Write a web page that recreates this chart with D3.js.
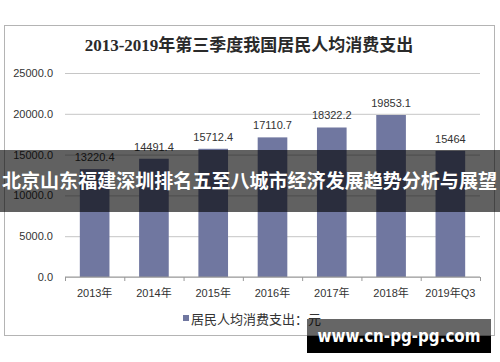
<!DOCTYPE html>
<html>
<head>
<meta charset="utf-8">
<script src="https://cdn.jsdelivr.net/npm/d3@7"></script>
<style>
  body { margin: 0; background: #fff; }
  svg { display: block; }
  text { font-family: "Liberation Sans", Arial, "Noto Sans CJK SC", sans-serif; }
</style>
</head>
<body>
<div id="chart"></div>
<script>
const width = 500
const height = 362
const margin = { left: 65, right: 20, top: 73, bottom: 85 }

const title = '2013-2019年第三季度我国居民人均消费支出'
const years = ['2013年', '2014年', '2015年', '2016年', '2017年', '2018年', '2019年Q3']
const values = [13220.4, 14491.4, 15712.4, 17110.7, 18322.2, 19853.1, 15464]
const yTicks = [0, 5000, 10000, 15000, 20000, 25000]
const legendLabel = '居民人均消费支出：元'
const banner = '北京山东福建深圳排名五至八城市经济发展趋势分析与展望'
const watermark = 'www.cn-pg-pg.com'

const barColor = '#7077a0'
const formatTick = d3.format('.1f')

const svg = d3.select('#chart')
  .append('svg')
    .attr('width', width)
    .attr('height', height)

// outer frame
svg.append('rect')
  .attr('x', 4.5)
  .attr('y', 25.5)
  .attr('width', 490)
  .attr('height', 310)
  .attr('fill', '#fff')
  .attr('stroke', '#b4b4b4')

svg.append('text')
  .attr('x', 249)
  .attr('y', 51)
  .attr('text-anchor', 'middle')
  .style('font-family', '"Liberation Serif", "Noto Sans CJK SC", serif')
  .style('font-size', '17px')
  .style('font-weight', 'bold')
  .attr('fill', '#2a2a2a')
  .text(title)

let x_scale = d3.scaleBand()
  .domain(years)
  .range([margin.left, width - margin.right])
  .paddingInner(0.5)
  .paddingOuter(0.25)
let x_axis_scale = d3.scaleBand()
  .domain(years)
  .range([margin.left, width - margin.right])
let y_scale = d3.scaleLinear()
  .domain([0, 25000])
  .range([height - margin.bottom, margin.top])

// grid + y labels
svg.append('g')
  .attr('transform', `translate(${margin.left},0)`)
  .call(d3.axisLeft(y_scale).tickValues(yTicks).tickFormat(formatTick)
    .tickSize(-(width - margin.left - margin.right)).tickPadding(12))
  .call(g => g.select('.domain').remove())
  .call(g => g.selectAll('.tick line').attr('stroke', '#c6c6c6'))
  .call(g => g.selectAll('.tick text')
    .attr('fill', '#333')
    .style('font-size', '11px'))

// bars
svg.append('g')
  .selectAll('rect')
  .data(values)
  .enter().append('rect')
    .attr('x', (d, i) => x_scale(years[i]))
    .attr('y', d => y_scale(d))
    .attr('width', x_scale.bandwidth())
    .attr('height', d => y_scale(0) - y_scale(d))
    .attr('fill', barColor)

// value labels
svg.append('g')
  .selectAll('text')
  .data(values)
  .enter().append('text')
    .attr('x', (d, i) => x_scale(years[i]) + x_scale.bandwidth() / 2)
    .attr('y', d => y_scale(d) - 8)
    .attr('text-anchor', 'middle')
    .attr('fill', '#333')
    .style('font-size', '11px')
    .text(d => String(d))

// x axis
const xAxisG = svg.append('g')
  .attr('transform', `translate(0,${y_scale(0)})`)
xAxisG.append('line')
  .attr('x1', margin.left)
  .attr('x2', width - margin.right)
  .attr('stroke', '#999')
xAxisG.selectAll('.sep')
  .data(years.concat(['end']))
  .enter().append('line')
    .attr('x1', (d, i) => margin.left + i * x_axis_scale.step() + 0.5)
    .attr('x2', (d, i) => margin.left + i * x_axis_scale.step() + 0.5)
    .attr('y1', 0)
    .attr('y2', 4)
    .attr('stroke', '#999')
xAxisG.selectAll('.lbl')
  .data(years)
  .enter().append('text')
    .attr('x', d => x_axis_scale(d) + x_axis_scale.bandwidth() / 2)
    .attr('y', 20)
    .attr('text-anchor', 'middle')
    .attr('fill', '#333')
    .style('font-size', '11px')
    .text(d => d)

// legend
svg.append('rect')
  .attr('x', 183)
  .attr('y', 315)
  .attr('width', 6)
  .attr('height', 6)
  .attr('fill', barColor)
svg.append('text')
  .attr('x', 191)
  .attr('y', 323.5)
  .attr('fill', '#333')
  .style('font-size', '13px')
  .text(legendLabel)

// overlay banner
svg.append('rect')
  .attr('x', 0)
  .attr('y', 150)
  .attr('width', width)
  .attr('height', 62)
  .attr('fill', '#000')
  .attr('opacity', 0.62)
svg.append('text')
  .attr('x', 2)
  .attr('y', 188)
  .attr('textLength', 495)
  .attr('lengthAdjust', 'spacingAndGlyphs')
  .attr('fill', '#fff')
  .style('font-family', '"Noto Sans CJK SC", sans-serif')
  .style('font-size', '19px')
  .style('font-weight', 'bold')
  .text(banner)

// watermark
svg.append('rect')
  .attr('x', 307)
  .attr('y', 319)
  .attr('width', 184)
  .attr('height', 17)
  .attr('fill', '#000')
  .attr('opacity', 0.6)
svg.append('rect')
  .attr('x', 307)
  .attr('y', 336)
  .attr('width', 184)
  .attr('height', 17)
  .attr('fill', '#000')
svg.append('text')
  .attr('x', 399)
  .attr('y', 342)
  .attr('text-anchor', 'middle')
  .attr('textLength', 163)
  .attr('lengthAdjust', 'spacingAndGlyphs')
  .attr('fill', '#fff')
  .style('font-family', '"DejaVu Sans", sans-serif')
  .style('font-size', '17px')
  .style('font-weight', 'bold')
  .text(watermark)
</script>
</body>
</html>
